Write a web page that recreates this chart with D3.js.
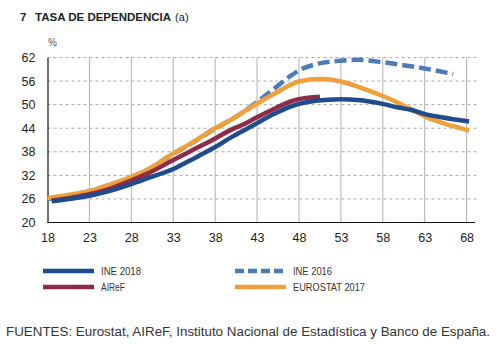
<!DOCTYPE html>
<html>
<head>
<meta charset="utf-8">
<script src="https://cdn.jsdelivr.net/npm/d3@7"></script>
<style>
  body { margin: 0; background: #fff; }
  svg { display: block; font-family: "Liberation Sans", Arial, sans-serif; }
</style>
</head>
<body>
<div id="chart"></div>
<script>
// values (age -> dependency rate, %)
const ine2018 = [[18.5, 25.4], [21, 26.1], [23, 26.8], [25, 27.8], [28, 29.8], [30, 31.3], [33, 33.6], [35, 35.8],
  [38, 39.2], [40, 41.8], [42, 44.1], [43, 45.3], [45, 47.6], [47, 49.5], [48, 50.2], [50, 51.0], [53, 51.4],
  [55, 51.2], [58, 50.2], [60, 49.2], [61.3, 48.7], [63, 47.6], [65, 46.8], [68.3, 45.7]];
const airef = [[18.5, 25.6], [21, 26.4], [23, 27.2], [25, 28.3], [28, 30.7], [30, 32.5], [33, 35.9], [35, 38.1],
  [38, 41.4], [40, 43.7], [41.2, 44.8], [43, 46.8], [45, 48.9], [47, 50.8], [48, 51.4], [50.5, 52.0]];
const ine2016 = [[18, 26.0], [21, 27.1], [23, 28.0], [25, 29.3], [28, 31.6], [30, 33.5], [33, 37.5], [35, 39.9],
  [38, 43.9], [40, 46.3], [42, 49.1], [43, 50.7], [45, 54.0], [47, 57.3], [48, 58.7], [50, 60.3], [53, 61.2],
  [55, 61.4], [58, 60.8], [60, 60.2], [63, 59.2], [66.4, 57.8]];
const eurostat = [[18, 26.2], [21, 27.2], [23, 28.0], [25, 29.3], [28, 31.6], [30, 33.5], [33, 37.6], [35, 40.0],
  [38, 44.0], [40, 46.3], [43, 50.3], [45, 52.7], [48, 55.9], [50.5, 56.5], [53, 55.9], [55, 54.6], [58, 52.2],
  [60, 50.3], [61.3, 48.9], [63, 47.0], [65, 45.4], [68.3, 43.4]];

const xTicks = [18, 23, 28, 33, 38, 43, 48, 53, 58, 63, 68];
const yTicks = [20, 26, 32, 38, 44, 50, 56, 62];

const series = [
  { name: "INE 2016", data: ine2016, color: "#4c7cb8", dash: "12,5" },
  { name: "EUROSTAT 2017", data: eurostat, color: "#f0a03a", dash: null },
  { name: "AIReF", data: airef, color: "#8c2c48", dash: null },
  { name: "INE 2018", data: ine2018, color: "#1f4c8c", dash: null }
];
// name, column, row, label width
const legendOrder = [
  ["INE 2018", 0, 0, 40], ["INE 2016", 1, 0, 39],
  ["AIReF", 0, 1, 24], ["EUROSTAT 2017", 1, 1, 72]
];

const W = 497, H = 345;
const svg = d3.select("#chart").append("svg").attr("width", W).attr("height", H);

const x = d3.scaleLinear().domain([18, 69]).range([47.5, 475]);
const y = d3.scaleLinear().domain([20, 62]).range([222.5, 57.5]);

// title, one text element
const title = svg.append("text").attr("x", 20).attr("y", 21).attr("fill", "#222");
title.append("tspan").attr("font-size", 11.5).attr("font-weight", "bold")
  .text("7");
title.append("tspan").attr("x", 35).attr("font-size", 11.5).attr("font-weight", "bold")
  .text("TASA DE DEPENDENCIA");
title.append("tspan").attr("dx", 4).attr("font-size", 11).text("(a)");

svg.append("text").attr("x", 48).attr("y", 46).attr("font-size", 10)
  .attr("fill", "#555").text("%");

// grid
svg.append("g").selectAll("line").data(yTicks.filter(d => d > 20)).join("line")
  .attr("x1", x(18)).attr("x2", 478)
  .attr("y1", d => y(d)).attr("y2", d => y(d))
  .attr("stroke", "#a8a8a8").attr("stroke-width", 1).attr("stroke-dasharray", "3,3");
svg.append("g").selectAll("line").data(xTicks.filter(d => d > 18)).join("line")
  .attr("x1", d => x(d)).attr("x2", d => x(d))
  .attr("y1", y(62)).attr("y2", y(20))
  .attr("stroke", "#b0b0b0").attr("stroke-width", 1);

// axes
const yAxis = svg.append("g").attr("transform", `translate(${x(18)},0)`)
  .call(d3.axisLeft(y).tickValues(yTicks).tickSize(0).tickPadding(12));
const xAxis = svg.append("g").attr("transform", `translate(0,${y(20)})`)
  .call(d3.axisBottom(x).tickValues(xTicks).tickSize(0).tickPadding(11));
[yAxis, xAxis].forEach(g => {
  g.select(".domain").attr("stroke", "#111").attr("stroke-width", 1.2);
  g.selectAll("text").attr("font-size", 12.5).attr("fill", "#222")
    .attr("font-family", "Liberation Sans, Arial, sans-serif");
});
xAxis.select(".domain").attr("d", `M${x(18)},0H475`);

// lines
const line = d3.line().x(d => x(d[0])).y(d => y(d[1])).curve(d3.curveMonotoneX);
svg.append("g").selectAll("path").data(series).join("path")
  .attr("d", d => line(d.data))
  .attr("fill", "none")
  .attr("stroke", d => d.color)
  .attr("stroke-width", 4.5)
  .attr("stroke-dasharray", d => d.dash);

// legend
const lg = svg.append("g");
legendOrder.forEach(([name, col, row, tw]) => {
  const s = series.find(d => d.name === name);
  const lx = col === 0 ? 43 : 235;
  const ly = 271 + row * 16;
  lg.append("line").attr("x1", lx).attr("x2", lx + 51).attr("y1", ly).attr("y2", ly)
    .attr("stroke", s.color).attr("stroke-width", 4.5).attr("stroke-dasharray", s.dash ? "9,4" : null);
  lg.append("text").attr("x", lx + 58).attr("y", ly + 4)
    .attr("font-size", 11).attr("fill", "#333")
    .attr("textLength", tw).attr("lengthAdjust", "spacingAndGlyphs")
    .text(name);
});

// source
svg.append("text").attr("x", 6).attr("y", 336)
  .attr("font-size", 12.5).attr("fill", "#333")
  .attr("textLength", 484).attr("lengthAdjust", "spacingAndGlyphs")
  .text("FUENTES: Eurostat, AIReF, Instituto Nacional de Estadística y Banco de España.");
</script>
</body>
</html>
